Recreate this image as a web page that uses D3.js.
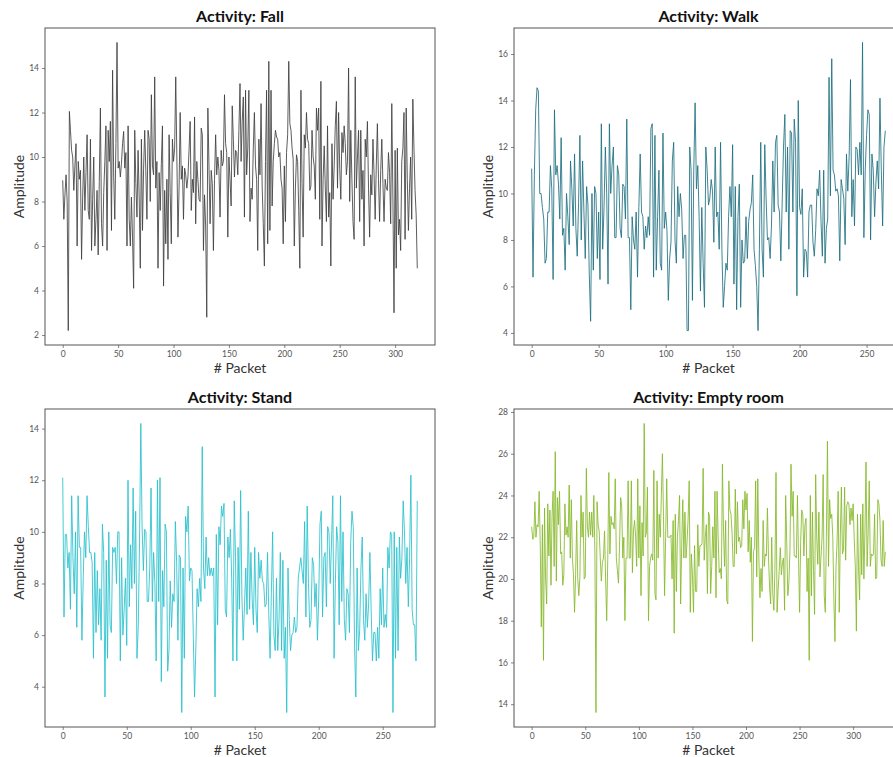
<!DOCTYPE html>
<html>
<head>
<meta charset="utf-8">
<script src="https://cdn.jsdelivr.net/npm/d3@7"></script>
<style>
  body { margin: 0; background: #fff; }
  text { font-family: "Century Gothic", "URW Gothic", Lato, "DejaVu Sans", sans-serif; }
</style>
</head>
<body>
<div id="chart"></div>
<script>
// amplitude per packet
const fallY = [
  8.95, 7.2, 8.3, 9.2, 8.0, 2.2, 12.05, 11.2, 10.3, 10.0,
  8.5, 9.6, 10.6, 6.0, 9.8, 9.0, 9.4, 5.4, 8.2, 10.0,
  7.6, 9.3, 11.0, 7.6, 7.2, 10.8, 5.8, 8.1, 10.0, 6.0,
  7.2, 8.5, 5.6, 8.9, 12.2, 7.0, 6.0, 8.4, 9.8, 11.4,
  5.8, 11.2, 9.8, 11.6, 6.7, 13.9, 9.1, 7.2, 10.6, 15.15,
  9.5, 9.8, 9.1, 9.7, 10.6, 11.15, 9.5, 10.2, 6.0, 11.4,
  7.2, 6.0, 8.2, 6.4, 4.1, 11.2, 8.8, 7.3, 10.3, 8.2,
  5.0, 10.8, 6.7, 9.5, 11.2, 9.4, 7.2, 11.2, 10.8, 8.0,
  12.8, 9.6, 9.2, 13.6, 8.6, 9.8, 5.0, 9.3, 7.6, 9.7,
  11.4, 4.2, 8.5, 6.1, 9.0, 5.4, 11.0, 8.4, 6.1, 10.8,
  9.8, 10.4, 13.6, 10.0, 6.4, 8.6, 12.0, 9.0, 9.6, 7.2,
  9.5, 9.2, 8.6, 9.1, 10.3, 11.6, 7.6, 9.0, 8.4, 11.8,
  7.0, 9.8, 9.0, 8.1, 8.0, 11.3, 11.0, 5.8, 8.3, 6.9,
  2.8, 12.2, 9.6, 7.0, 9.4, 8.8, 5.8, 9.0, 11.0, 9.2,
  10.0, 9.4, 7.3, 10.3, 9.6, 9.8, 12.8, 10.6, 10.2, 6.4,
  10.0, 9.0, 7.8, 12.3, 10.8, 9.1, 10.3, 10.2, 9.2, 11.2,
  13.3, 9.8, 11.6, 12.7, 7.3, 13.0, 9.2, 10.4, 13.0, 7.1,
  8.6, 8.1, 10.4, 12.0, 9.6, 9.0, 5.8, 10.8, 9.2, 12.4,
  8.7, 7.0, 5.1, 9.8, 13.0, 6.1, 14.3, 6.7, 13.0, 7.8,
  9.8, 10.6, 11.2, 10.9, 10.8, 10.0, 10.2, 9.0, 8.6, 6.1,
  9.6, 7.1, 10.2, 11.0, 14.3, 11.5, 11.2, 10.4, 9.9, 6.0,
  8.6, 10.1, 9.8, 7.6, 5.0, 13.0, 8.8, 6.4, 11.0, 10.4,
  12.0, 10.8, 10.6, 8.5, 8.7, 11.2, 10.0, 9.6, 8.1, 12.2,
  11.2, 12.2, 7.2, 13.4, 6.0, 9.0, 10.5, 8.6, 7.1, 11.4,
  7.3, 8.4, 5.1, 10.6, 8.1, 9.6, 11.4, 12.5, 8.6, 12.0,
  9.5, 8.1, 11.1, 10.2, 11.4, 10.6, 9.2, 9.8, 14.0, 8.0,
  11.2, 9.0, 7.1, 6.3, 13.6, 8.6, 10.0, 11.2, 7.1, 11.2,
  8.1, 9.4, 6.0, 10.8, 10.0, 11.6, 8.6, 6.4, 9.2, 8.3,
  10.8, 9.2, 7.2, 9.6, 11.5, 9.0, 7.1, 9.4, 10.8, 8.8,
  7.1, 9.0, 8.6, 8.5, 10.2, 9.3, 7.0, 12.4, 8.2, 3.0,
  10.3, 5.0, 10.4, 6.5, 7.2, 5.8, 9.8, 10.4, 12.0, 6.3,
  12.2, 9.0, 6.7, 8.6, 10.0, 7.2, 12.6, 10.4, 8.5, 7.4,
  5.0
]

const walkY = [
  11.07, 6.4, 10.8, 13.6, 14.55, 14.4, 10.0, 10.0, 9.4, 8.9,
  7.0, 7.2, 9.2, 9.2, 11.2, 10.2, 6.3, 13.6, 10.8, 11.2,
  10.4, 8.9, 12.4, 8.2, 8.5, 6.7, 10.0, 9.0, 7.8, 11.4,
  10.2, 8.6, 11.7, 8.5, 7.3, 9.6, 12.5, 8.0, 11.4, 9.2,
  7.2, 10.3, 9.5, 6.5, 4.5, 10.0, 6.7, 10.3, 10.0, 7.2,
  9.2, 6.3, 13.0, 7.6, 9.4, 12.0, 10.0, 6.1, 13.0, 10.0,
  11.2, 12.0, 8.1, 8.1, 11.2, 10.8, 8.5, 8.1, 10.4, 10.3,
  8.9, 13.2, 8.1, 8.1, 5.0, 9.0, 8.0, 7.6, 9.2, 6.4,
  9.4, 11.7, 9.2, 9.0, 7.6, 8.6, 8.1, 9.0, 8.2, 12.8,
  13.0, 6.4, 12.5, 6.7, 9.0, 11.0, 7.0, 6.7, 12.6, 8.5,
  9.2, 8.4, 5.4, 7.2, 7.9, 11.4, 12.2, 8.0, 7.0, 10.3,
  9.0, 10.0, 9.3, 7.2, 8.2, 8.2, 4.1, 4.1, 12.0, 11.0,
  5.4, 11.0, 13.9, 10.2, 11.2, 9.0, 5.8, 9.4, 7.0, 5.1,
  12.0, 11.0, 9.5, 9.8, 10.6, 10.1, 7.9, 12.0, 9.0, 9.2,
  7.6, 12.2, 7.6, 5.1, 6.0, 7.0, 6.7, 9.0, 10.3, 9.0,
  12.1, 6.1, 10.3, 5.0, 9.0, 10.4, 5.1, 8.0, 7.0, 7.1,
  9.0, 7.2, 8.8, 9.3, 9.6, 10.8, 7.6, 6.9, 6.0, 4.1,
  7.6, 12.2, 7.6, 6.4, 12.1, 9.8, 8.0, 8.1, 7.2, 8.6,
  11.4, 9.2, 12.2, 12.5, 9.5, 9.2, 7.1, 9.6, 12.0, 13.4,
  9.2, 12.0, 7.6, 12.7, 12.6, 9.2, 13.2, 12.2, 5.6, 14.0,
  9.4, 9.1, 10.2, 6.4, 7.6, 7.5, 6.4, 9.2, 9.5, 9.5,
  7.9, 7.3, 8.4, 10.2, 9.9, 11.0, 8.8, 7.3, 11.0, 7.0,
  8.5, 8.9, 15.0, 9.9, 15.8, 11.0, 10.8, 10.1, 10.2, 9.9,
  7.1, 10.6, 10.2, 9.8, 7.8, 11.7, 10.1, 11.6, 14.9, 9.0,
  10.6, 8.6, 12.0, 11.9, 10.8, 12.2, 10.8, 16.5, 8.1, 11.0,
  12.5, 13.6, 13.4, 8.0, 11.7, 11.0, 9.0, 10.5, 11.4, 10.2,
  14.1, 11.0, 8.6, 12.0, 12.7
]

const standY = [
  12.1, 6.7, 9.9, 9.9, 8.6, 9.2, 7.0, 11.4, 9.0, 7.6,
  10.0, 6.3, 11.4, 9.4, 9.4, 5.8, 8.2, 10.0, 9.0, 11.4,
  10.2, 9.2, 9.2, 8.8, 5.1, 9.2, 6.1, 8.5, 6.4, 7.8,
  5.8, 10.3, 9.2, 3.6, 8.9, 5.1, 10.0, 6.4, 6.1, 9.4,
  9.2, 9.4, 8.0, 10.0, 10.0, 5.0, 9.0, 6.0, 7.0, 8.2,
  5.6, 12.0, 7.1, 9.5, 7.8, 11.7, 8.0, 10.8, 5.1, 6.3,
  9.6, 14.2, 10.2, 8.5, 10.1, 10.0, 7.3, 7.3, 8.6, 11.7,
  7.3, 9.2, 8.0, 5.0, 12.0, 7.3, 12.1, 4.2, 8.5, 7.1,
  10.3, 10.0, 4.6, 5.4, 8.1, 6.3, 7.6, 7.3, 10.4, 8.8,
  5.8, 9.1, 9.0, 3.0, 8.6, 5.1, 10.6, 10.0, 11.0, 8.1,
  8.6, 8.5, 6.0, 3.6, 5.5, 7.8, 7.1, 8.2, 7.3, 13.3,
  8.6, 7.8, 9.8, 8.3, 9.0, 8.3, 8.6, 8.3, 8.6, 3.6,
  9.9, 6.4, 10.2, 9.5, 11.0, 10.6, 11.1, 7.0, 6.7, 9.8,
  9.0, 10.1, 8.2, 5.0, 11.2, 9.0, 5.0, 9.4, 7.0, 11.6,
  7.5, 5.8, 7.1, 8.6, 6.8, 10.8, 7.0, 9.2, 7.4, 6.4,
  9.4, 7.0, 6.1, 9.2, 8.2, 8.9, 8.1, 8.0, 7.1, 7.2,
  9.2, 6.8, 5.1, 7.6, 10.0, 6.0, 5.4, 8.2, 5.4, 6.6,
  9.2, 5.4, 8.9, 5.1, 6.3, 3.0, 8.6, 6.6, 5.4, 6.0,
  6.1, 6.7, 6.1, 6.3, 8.2, 8.6, 9.0, 8.5, 8.0, 10.4,
  6.7, 11.0, 8.0, 6.3, 6.6, 9.0, 8.7, 7.1, 8.0, 5.8,
  7.4, 10.3, 10.8, 6.7, 9.0, 9.2, 7.1, 10.2, 10.0, 8.0,
  9.6, 11.4, 5.1, 8.0, 10.2, 9.6, 6.4, 11.4, 7.3, 10.0,
  6.6, 5.8, 7.8, 7.6, 6.1, 9.6, 10.8, 10.2, 5.6, 3.6,
  8.6, 5.4, 6.2, 8.6, 9.8, 6.6, 5.8, 7.6, 6.3, 7.2,
  9.2, 6.9, 5.0, 6.1, 6.1, 5.0, 6.3, 5.1, 7.8, 6.4,
  8.6, 6.3, 6.8, 6.3, 9.4, 8.6, 10.0, 9.9, 3.0, 10.0,
  5.1, 9.4, 5.4, 9.8, 8.2, 9.0, 11.2, 10.0, 8.0, 9.4,
  7.1, 9.0, 12.2, 7.0, 6.4, 6.4, 5.0, 11.2
]

const emptyY = [
  22.5, 21.9, 22.0, 23.7, 22.0, 22.6, 22.5, 24.2, 21.6, 17.7,
  22.6, 16.1, 23.4, 20.0, 18.8, 23.6, 21.1, 23.3, 19.7, 23.0,
  24.2, 20.6, 26.1, 19.9, 23.9, 22.6, 24.2, 21.2, 21.3, 19.7,
  20.2, 23.6, 22.1, 22.5, 22.0, 24.5, 21.0, 23.8, 21.0, 20.2,
  18.4, 20.2, 22.8, 20.0, 19.2, 20.1, 24.0, 22.0, 23.2, 20.0,
  20.1, 25.3, 22.5, 22.0, 23.2, 22.1, 23.2, 22.0, 24.0, 21.2,
  13.6, 23.7, 22.6, 22.3, 21.0, 19.9, 20.8, 21.0, 22.3, 20.0,
  18.0, 21.0, 25.1, 21.2, 23.0, 22.6, 22.7, 22.4, 24.8, 21.0,
  20.4, 19.8, 21.6, 23.9, 23.5, 21.0, 22.0, 18.0, 21.0, 21.0,
  24.7, 21.0, 21.0, 24.7, 20.3, 22.3, 22.8, 22.0, 20.6, 24.8,
  21.0, 23.5, 19.2, 22.7, 21.1, 27.45, 22.0, 22.2, 24.4, 18.0,
  20.6, 21.0, 21.2, 20.9, 25.2, 19.3, 19.0, 24.7, 21.0, 23.1,
  22.0, 24.0, 26.0, 23.0, 19.2, 22.0, 24.8, 22.0, 22.0, 22.0,
  22.1, 20.0, 22.8, 17.4, 23.1, 19.4, 22.0, 22.8, 24.0, 18.8,
  21.6, 23.8, 21.0, 23.2, 21.0, 21.8, 22.9, 24.7, 18.4, 21.2,
  20.2, 18.4, 21.6, 19.4, 19.4, 22.6, 20.6, 21.6, 21.6, 21.7,
  25.3, 20.9, 22.0, 22.6, 19.3, 23.2, 23.0, 19.3, 20.6, 22.5,
  21.0, 24.2, 19.1, 24.2, 22.0, 20.3, 20.5, 20.0, 25.5, 22.3,
  20.6, 22.8, 19.0, 18.8, 24.7, 23.3, 23.1, 22.2, 20.6, 20.6,
  24.3, 21.2, 23.7, 21.8, 22.0, 21.5, 21.6, 23.8, 22.4, 24.2,
  23.3, 24.1, 21.3, 22.8, 20.8, 22.0, 17.0, 21.3, 21.5, 24.7,
  20.1, 24.8, 21.0, 19.1, 20.5, 19.4, 22.8, 20.6, 21.2, 21.1,
  23.4, 21.0, 19.6, 18.8, 22.0, 19.3, 18.5, 20.5, 25.1, 18.4,
  19.5, 20.4, 21.5, 20.2, 20.8, 21.0, 18.5, 24.0, 21.8, 19.2,
  19.8, 21.3, 25.5, 23.0, 24.2, 21.1, 21.1, 21.0, 24.0, 21.0,
  18.4, 21.8, 23.3, 23.1, 21.1, 22.6, 22.9, 19.4, 21.0, 16.1,
  24.0, 19.2, 23.2, 20.4, 18.3, 25.0, 22.0, 20.7, 23.2, 20.1,
  21.1, 22.0, 25.0, 19.2, 18.4, 22.0, 26.6, 20.6, 23.8, 22.9,
  23.1, 22.0, 19.0, 17.0, 20.6, 21.8, 24.2, 18.4, 22.0, 24.4,
  21.2, 21.4, 24.4, 20.9, 23.5, 23.7, 23.6, 22.6, 23.4, 22.8,
  23.6, 21.9, 20.6, 17.5, 23.1, 20.6, 19.0, 23.1, 20.2, 23.6,
  20.0, 22.3, 25.6, 20.6, 22.3, 24.7, 20.6, 21.2, 21.1, 21.2,
  23.1, 20.0, 20.1, 23.8, 23.6, 22.8, 20.9, 20.6, 22.8, 20.6,
  21.3
]

const titles = ['Activity: Fall', 'Activity: Walk', 'Activity: Stand', 'Activity: Empty room']
const series = [fallY, walkY, standY, emptyY]
const colors = ['#404040', '#1d6f80', '#27c1cc', '#85b828']

const params = {
  width: 893,
  height: 757,
  // panel frames: left, top, right, bottom
  frames: [[45, 28, 435, 345], [514, 28, 903, 345], [45, 409, 435, 727], [514, 409, 903, 727]],
}

const svg = d3.select('#chart')
  .append('svg')
  .attr('width', params.width)
  .attr('height', params.height)

series.forEach((values, i) => panel(values, i))

function panel(values, i) {
  const [x0, y0, x1, y1] = params.frames[i]
  const g = svg.append('g')

  // matplotlib style 5% margins
  const n = values.length - 1
  const [lo, hi] = d3.extent(values)
  const padY = (hi - lo) * 0.05

  const x = d3.scaleLinear().domain([-n * 0.05, n * 1.05]).range([x0, x1])
  const y = d3.scaleLinear().domain([lo - padY, hi + padY]).range([y1, y0])

  const xTicks = d3.range(0, n + 1, 50)
  const yTicks = d3.range(Math.ceil(lo - padY), hi + padY, 1).filter(d => d % 2 === 0)

  const xAxis = g.append('g')
    .attr('transform', `translate(0,${y1})`)
    .call(d3.axisBottom(x).tickValues(xTicks).tickSize(3).tickPadding(3))
  const yAxis = g.append('g')
    .attr('transform', `translate(${x0},0)`)
    .call(d3.axisLeft(y).tickValues(yTicks).tickSize(3).tickPadding(3))

  for (const ax of [xAxis, yAxis]) {
    ax.select('.domain').remove()
    ax.selectAll('line').attr('stroke', '#666').attr('stroke-width', 0.8)
    ax.selectAll('text').attr('fill', '#555').style('font-size', '8.5px')
  }

  // frame
  g.append('rect')
    .attr('x', x0).attr('y', y0)
    .attr('width', x1 - x0).attr('height', y1 - y0)
    .attr('fill', 'none')
    .attr('stroke', '#555')
    .attr('stroke-width', 1)

  const line = d3.line()
    .x((d, j) => x(j))
    .y(d => y(d))

  g.append('path')
    .datum(values)
    .attr('d', line)
    .attr('fill', 'none')
    .attr('stroke', colors[i])
    .attr('stroke-width', 0.85)
    .attr('stroke-linejoin', 'round')

  g.append('text')
    .attr('x', (x0 + x1) / 2)
    .attr('y', y0 - 6)
    .attr('text-anchor', 'middle')
    .style('font-size', '16px')
    .style('font-weight', 'bold')
    .attr('fill', '#111')
    .text(titles[i])

  g.append('text')
    .attr('x', (x0 + x1) / 2)
    .attr('y', y1 + 28)
    .attr('text-anchor', 'middle')
    .style('font-size', '14px')
    .attr('fill', '#333')
    .text('# Packet')

  g.append('text')
    .attr('transform', `translate(${x0 - 21},${(y0 + y1) / 2}) rotate(-90)`)
    .attr('text-anchor', 'middle')
    .style('font-size', '14px')
    .attr('fill', '#333')
    .text('Amplitude')
}
</script>
</body>
</html>
